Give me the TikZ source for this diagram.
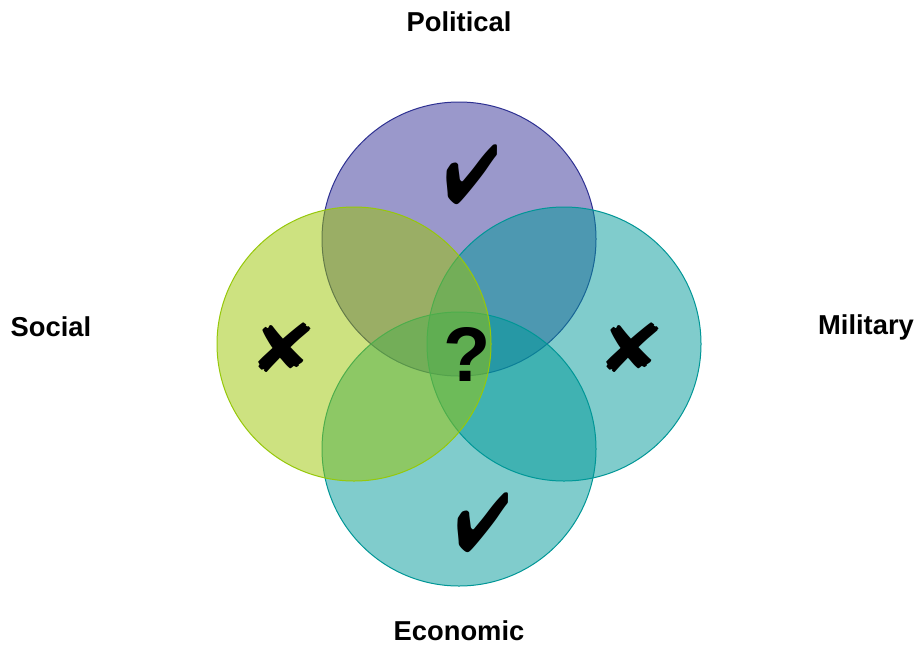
\documentclass[tikz,border=0pt]{standalone}
\usepackage{fontspec}
\setmainfont{Liberation Sans}
\usepackage{pifont}
\usepackage{tikz}
\usetikzlibrary{calc,shapes}
\definecolor{politicalcol}{RGB}{53,49,151}
\definecolor{politicalline}{RGB}{46,49,146}
\definecolor{socialcol}{RGB}{155,197,1}
\definecolor{socialline}{RGB}{150,200,10}
\definecolor{tealcol}{RGB}{1,153,153}
\definecolor{tealline}{RGB}{0,150,150}
\tikzstyle{vennbox}=[circle,minimum size=205.5pt,inner sep=0pt,outer sep=0pt,
                     line width=0.75pt,fill opacity=0.5]
\tikzstyle{titlebox}=[font=\fontsize{20.5}{24}\selectfont\bfseries,inner sep=0pt]
\tikzstyle{markbox}=[font=\fontsize{48}{50}\selectfont,inner sep=0pt]
\newcommand\vennlabel[1]{\parbox{10em}{\centering #1}}
\newcommand\yesmark{\scalebox{1.02}[1.3]{\ding{52}}}
\newcommand\nomark{\scalebox{1.35}[1.08]{\ding{56}}}

\begin{document}
\begin{tikzpicture}[x=0.75pt,y=-0.75pt]
	\useasboundingbox (0,0) rectangle (919,646);
	% circles, drawn in this order so the overlaps come out right
	\node [vennbox,fill=politicalcol,draw=politicalline] (Political) at (459,239) {};
	\node [vennbox,fill=tealcol,draw=tealline] (Military) at (564,344) {};
	\node [vennbox,fill=tealcol,draw=tealline] (Economic) at (459,449) {};
	\node [vennbox,fill=socialcol,draw=socialline] (Social) at (354,344) {};
	% titles
	\node [titlebox] (PoliticalTitle) at (459,22) {\vennlabel{Political}};
	\node [titlebox] (SocialTitle) at (51,327) {\vennlabel{Social}};
	\node [titlebox] (MilitaryTitle) at (866,327) {\vennlabel{Military}};
	\node [titlebox] (EconomicTitle) at (459,631) {\vennlabel{Economic}};
	% marks
	\node [markbox] (PoliticalMark) at (472,175) {\yesmark};
	\node [markbox] (SocialMark) at (285,347) {\nomark};
	\node [markbox] (MilitaryMark) at (633,347) {\nomark};
	\node [markbox] (EconomicMark) at (483,523) {\yesmark};
	\node [font=\fontsize{58}{60}\selectfont\bfseries,inner sep=0pt] (Question) at (467,354) {?};
\end{tikzpicture}
\end{document}
